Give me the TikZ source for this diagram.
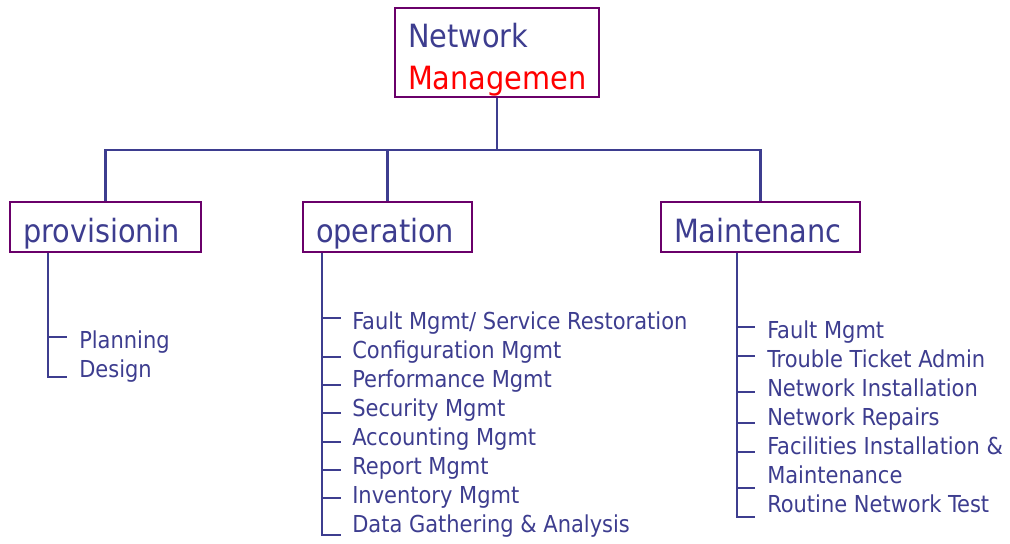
\documentclass[tikz,border=0pt]{standalone}
\usepackage{fontspec}
\setmainfont{DejaVu Sans Condensed}
\usepackage{xcolor}
\definecolor{TreeInk}{HTML}{3D3D8F}
\definecolor{BoxPlum}{HTML}{6A006A}
\definecolor{HeadRed}{HTML}{FF0000}
\usepackage{tikz}
\usetikzlibrary{positioning}

\begin{document}
\begin{tikzpicture}[
  x=0.75pt, y=-0.75pt,
  font=\fontsize{24}{26.25}\selectfont, text=TreeInk,
  box/.style={draw=BoxPlum, line width=1.6pt, align=left,
              inner xsep=9.75pt, inner ysep=0pt, minimum height=37.5pt,
              text height=22.5pt, text depth=0pt},
  item/.style={anchor=base west, inner sep=0pt,
               font=\fontsize{17.5}{21}\selectfont},
  tree/.style={draw=TreeInk, line width=2pt}
]
  \useasboundingbox (0,0) rectangle (1010,543);

  % top of the tree
  \node[box, text width=133.5pt, minimum height=66.75pt,
        text height=20pt, text depth=27pt] (root) at (497,52.5)
    {Network\\[5pt]\textcolor{HeadRed}{Managemen}};
  \node[box, text width=123.75pt] (prov) at (105.5,227) {provisionin};
  \node[box, text width=107.25pt] (ops) at (387.5,227) {operation};
  \node[box, text width=129.75pt] (maint) at (760.5,227) {Maintenanc};

  \coordinate (hub) at (497,150);
  \draw[tree] (root.south) -- (hub);
  \draw[tree] (hub) -| (prov.north);
  \draw[tree] (hub) -| (ops.north);
  \draw[tree] (hub) -| (maint.north);

  % provisioning list
  \coordinate (pspine) at (48,0);
  \node[item] (plan) at (79,348) {Planning};
  \node[item] (design) at (79,377) {Design};
  \draw[tree] (prov.south -| pspine) -- (pspine |- design.base) -- ++(19,0);
  \draw[tree] (pspine |- plan.base) ++(0,-11) -- ++(19,0);

  % operation list
  \coordinate (ospine) at (322,0);
  \node[item] (fault) at (352,329) {Fault Mgmt/ Service Restoration};
  \node[item] (config) at (352,358) {Configuration Mgmt};
  \node[item] (perf) at (352,387) {Performance Mgmt};
  \node[item] (secur) at (352,416) {Security Mgmt};
  \node[item] (account) at (352,445) {Accounting Mgmt};
  \node[item] (report) at (352,474) {Report Mgmt};
  \node[item] (invent) at (352,503) {Inventory Mgmt};
  \node[item] (data) at (352,532) {Data Gathering \& Analysis};
  \draw[tree] (ops.south -| ospine) -- (ospine |- data.base) -- ++(0,3) -- ++(19,0);
  \draw[tree] (ospine |- fault.base) ++(0,-11) -- ++(19,0);
  \draw[tree] (ospine |- config.base) ++(0,-1) -- ++(19,0);
  \draw[tree] (ospine |- perf.base) ++(0,-2) -- ++(19,0);
  \draw[tree] (ospine |- secur.base) ++(0,-3) -- ++(19,0);
  \draw[tree] (ospine |- account.base) ++(0,-3) -- ++(19,0);
  \draw[tree] (ospine |- report.base) ++(0,-4) -- ++(19,0);
  \draw[tree] (ospine |- invent.base) ++(0,-5) -- ++(19,0);

  % maintenance list
  \coordinate (mspine) at (737,0);
  \node[item] (mfault) at (767,338) {Fault Mgmt};
  \node[item] (ticket) at (767,367) {Trouble Ticket Admin};
  \node[item] (install) at (767,396) {Network Installation};
  \node[item] (repair) at (767,425) {Network Repairs};
  \node[item] (facil) at (767,454) {Facilities Installation \&};
  \node[item] (facmain) at (767,483) {Maintenance};
  \node[item] (routine) at (767,512) {Routine Network Test};
  \draw[tree] (maint.south -| mspine) -- (mspine |- routine.base) -- ++(0,5) -- ++(18,0);
  \draw[tree] (mspine |- mfault.base) ++(0,-11) -- ++(18,0);
  \draw[tree] (mspine |- ticket.base) ++(0,-11) -- ++(18,0);
  \draw[tree] (mspine |- install.base) ++(0,-4) -- ++(18,0);
  \draw[tree] (mspine |- repair.base) ++(0,-2) -- ++(18,0);
  \draw[tree] (mspine |- facil.base) ++(0,-2) -- ++(18,0);
  \draw[tree] (mspine |- facmain.base) ++(0,5) -- ++(18,0);
\end{tikzpicture}
\end{document}
